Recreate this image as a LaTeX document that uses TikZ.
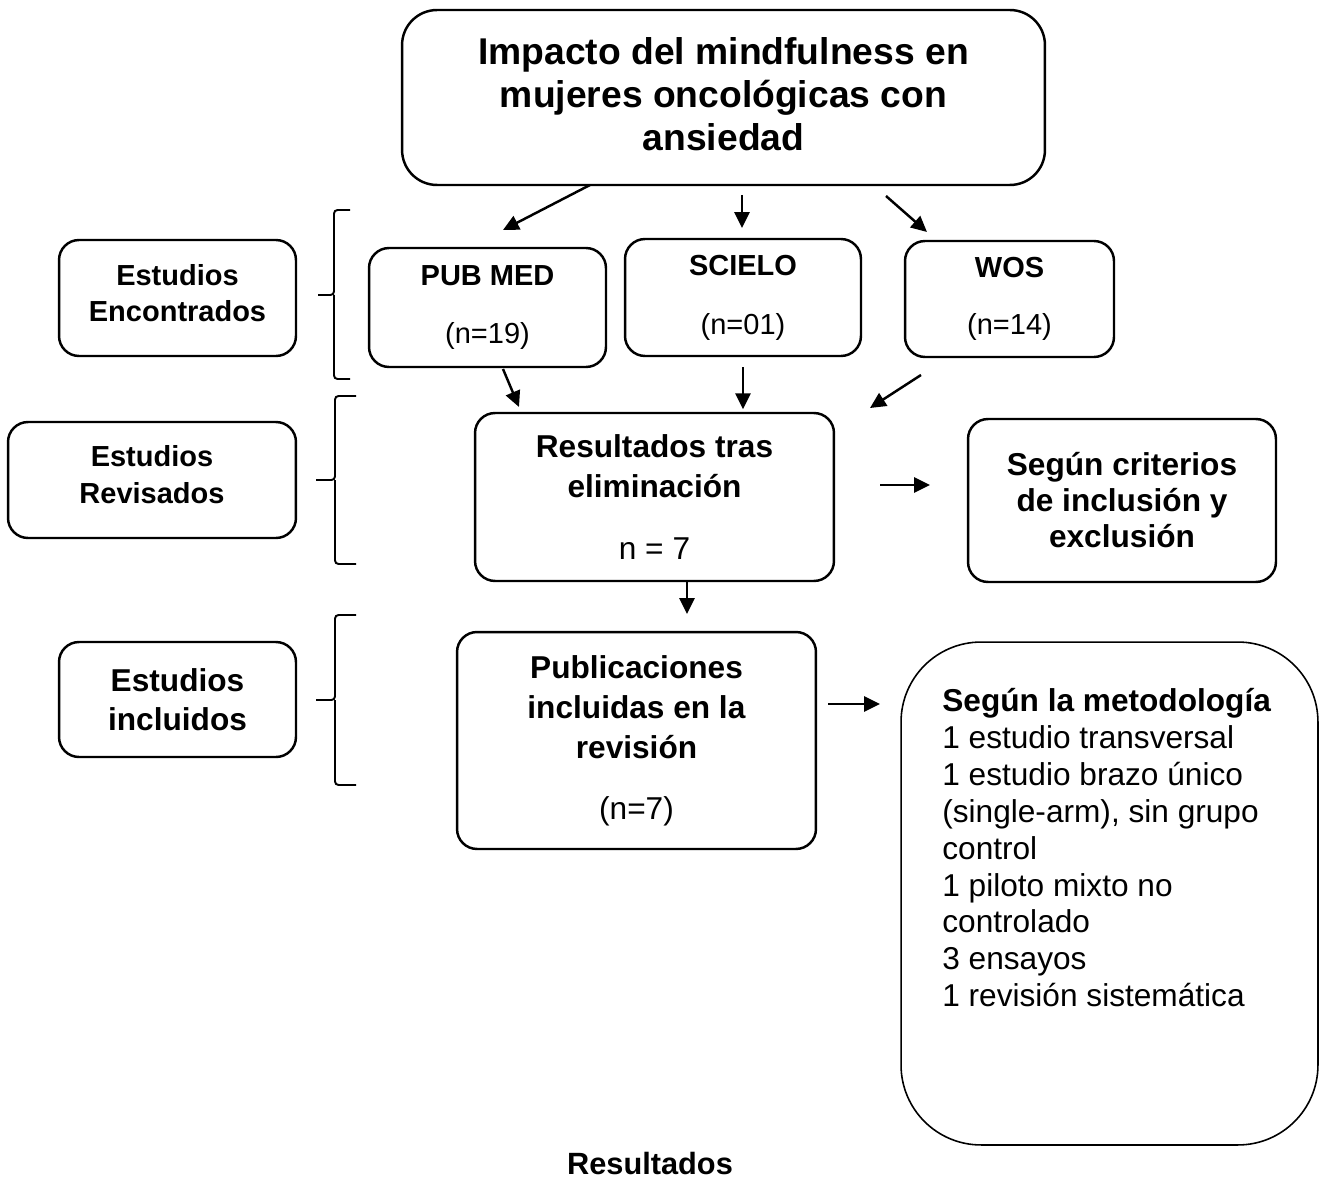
\documentclass[tikz,border=0pt]{standalone}
\usepackage{fontspec}
\setmainfont{Liberation Sans}
\usetikzlibrary{arrows.meta, positioning}

\begin{document}
\begin{tikzpicture}[x=0.02cm, y=-0.02cm,
                    caja/.style={draw, line width=1.4pt, rounded corners=0.4cm, align=center, inner sep=0pt},
                    chica/.style={font=\fontsize{16.5}{20.5}\selectfont},
                    grande/.style={font=\fontsize{18}{22.8}\selectfont},
                    flecha/.style={-{Triangle[length=9pt, width=8.5pt]}, line width=1.4pt},
                    llave/.style={line width=1.1pt, rounded corners=2pt}]
                    \useasboundingbox (0,0) rectangle (1322,1179);
                    \node[caja, rounded corners=0.7cm, minimum width=12.86cm, minimum height=3.5cm, font=\bfseries\fontsize{21.2}{24.5}\selectfont](titulo) at (723.5,97.5){Impacto del mindfulness en\\ mujeres oncológicas con\\ ansiedad\\[-21pt]};
                    \node[caja, minimum width=4.74cm, minimum height=2.32cm, font=\bfseries\fontsize{16.5}{20.5}\selectfont](encon) at (177.5,298){Estudios\\ Encontrados\\[-15pt]};
                    \node[caja, chica, minimum width=4.74cm, minimum height=2.38cm](pubmed) at (487.5,307.5){\textbf{PUB MED}\\[13pt] (n=19)};
                    \node[caja, chica, minimum width=4.72cm, minimum height=2.34cm](scielo) at (743,297.5){\textbf{SCIELO}\\[13pt] (n=01)};
                    \node[caja, chica, minimum width=4.18cm, minimum height=2.32cm](wos) at (1009.5,299){\textbf{WOS}\\[12pt] (n=14)};
                    \node[caja, minimum width=5.76cm, minimum height=2.32cm, font=\bfseries\fontsize{16.5}{21}\selectfont](revis) at (152,480){Estudios\\ Revisados\\[-15pt]};
                    \node[caja, grande, minimum width=7.18cm, minimum height=3.36cm](elim) at (654.5,497){\textbf{Resultados tras}\\ \textbf{eliminación}\\[12pt] n = 7};
                    \node[caja, minimum width=6.16cm, minimum height=3.26cm, font=\bfseries\fontsize{18}{20.5}\selectfont](criter) at (1122,500.5){Según criterios\\ de inclusión y\\ exclusión};
                    \node[caja, minimum width=4.74cm, minimum height=2.30cm, font=\bfseries\fontsize{18}{22}\selectfont](inclu) at (177.5,699.5){Estudios\\ incluidos};
                    \node[caja, grande, minimum width=7.18cm, minimum height=4.34cm](public) at (636.5,740.5){\textbf{Publicaciones}\\ \textbf{incluidas en la}\\ \textbf{revisión}\\[12pt] (n=7)};
                    \node[draw, line width=0.9pt, rounded corners=1.6cm, minimum width=8.34cm, minimum height=10.06cm](metod) at (1109.5,893.5){};
                    \node[anchor=north west, inner sep=0pt, align=left, font=\fontsize{18}{21}\selectfont](lista) at (942,688){\textbf{Según la metodología}\\ 1 estudio transversal\\ 1 estudio brazo único\\ (single-arm), sin grupo\\ control\\ 1 piloto mixto no\\ controlado\\ 3 ensayos\\ 1 revisión sistemática};
                    \node[font=\bfseries\fontsize{17.5}{21}\selectfont](result) at (650,1163){Resultados};
                    \coordinate(t1) at (590,185);
                    \coordinate(p1) at (503,230);
                    \coordinate(t2) at (742,195);
                    \coordinate(s1) at (742,228);
                    \coordinate(t3) at (886,196);
                    \coordinate(w1) at (927,232);
                    \coordinate(p2) at (503,369);
                    \coordinate(e1) at (519,407);
                    \coordinate[below=0.2cm of scielo.south](s2);
                    \coordinate[below=0.84cm of s2](e2);
                    \coordinate(w2) at (921,375);
                    \coordinate(e3) at (870,408);
                    \coordinate(e4) at (687,580);
                    \coordinate[below=0.68cm of e4](q1);
                    \coordinate(c1) at (880,485);
                    \coordinate[right=1cm of c1](c2);
                    \coordinate(m1) at (828,704);
                    \coordinate[right=1.04cm of m1](m2);
                    \draw[flecha] (t1) -- (p1);
                    \draw[flecha] (t2) -- (s1);
                    \draw[flecha] (t3) -- (w1);
                    \draw[flecha] (p2) -- (e1);
                    \draw[flecha] (s2) -- (e2);
                    \draw[flecha] (w2) -- (e3);
                    \draw[flecha] (e4) -- (q1);
                    \draw[flecha] (c1) -- (c2);
                    \draw[flecha] (m1) -- (m2);
                    \draw[llave] (350,210) -| (334,295) -- (318,295) (334,295) |- (350,379);
                    \draw[llave] (356,396) -| (335,480) -- (316,480) (335,480) |- (356,564);
                    \draw[llave] (356,615) -| (335,700) -- (316,700) (335,700) |- (356,785);
                \end{tikzpicture}
\end{document}
